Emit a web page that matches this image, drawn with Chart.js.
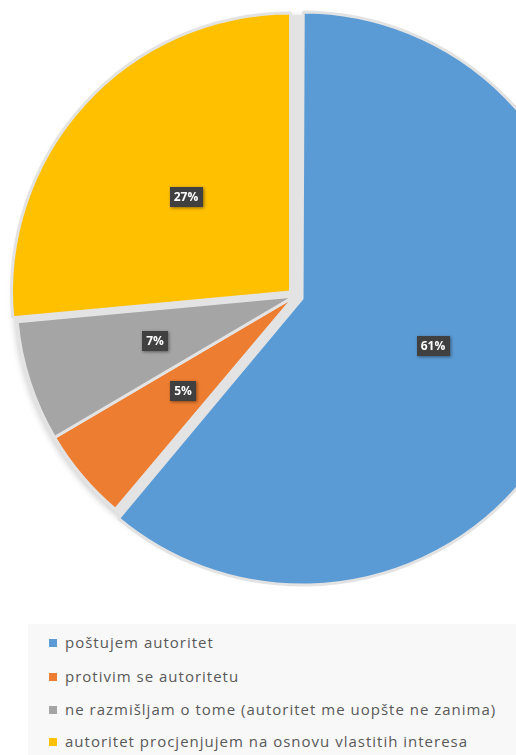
<!DOCTYPE html>
<html><head><meta charset="utf-8">
<script src="https://cdn.jsdelivr.net/npm/chart.js@4.4.1/dist/chart.umd.min.js"></script>
<style>
html,body{margin:0;padding:0;background:#fff;width:516px;height:755px;overflow:hidden;position:relative;}
#wrap{position:absolute;left:0;top:0;width:590px;height:592px;}
#legend{position:absolute;left:28px;top:624px;width:488px;height:131px;background:#f8f8f8;font-family:"Open Sans",sans-serif;font-size:15px;color:#595959;letter-spacing:1px;}
.item{position:absolute;left:21px;height:20px;line-height:20px;white-space:nowrap;}
.box{display:inline-block;width:8px;height:8px;margin-right:8px;vertical-align:middle;position:relative;top:-1px;}
</style></head><body>
<div id="wrap"><canvas id="c" width="590" height="592"></canvas></div>
<div id="legend"></div>
<script>
const categories = [
  'poštujem autoritet',
  'protivim se autoritetu',
  'ne razmišljam o tome (autoritet me uopšte ne zanima)',
  'autoritet procjenjujem na osnovu vlastitih interesa'
];
// percentages (labels show them rounded)
const values = [61.2, 5.4, 7.0, 26.5];

const sliceColors = ['#5B9BD5', '#ED7D31', '#A5A5A5', '#FFC000'];
// Chart.js v4 moves an arc by offset/4 px
const sliceOffsets = [30, 0, 0, 24];

const backdrop = {
  id: 'backdrop',
  beforeDatasetsDraw(chart) {
    const arc = chart.getDatasetMeta(0).data[0];
    if (!arc) return;
    const p = arc.getProps(['x', 'y', 'outerRadius'], true);
    const ctx = chart.ctx;
    ctx.save();
    ctx.fillStyle = '#e3e3e3';
    ctx.shadowColor = 'rgba(0,0,0,0.22)';
    ctx.shadowBlur = 7;
    ctx.shadowOffsetY = 2;
    ctx.beginPath();
    ctx.arc(p.x, p.y, p.outerRadius + 2, 0, Math.PI * 2);
    ctx.fill();
    ctx.restore();
  }
};

const valueLabels = {
  id: 'valueLabels',
  afterDatasetsDraw(chart) {
    const meta = chart.getDatasetMeta(0);
    const ds = chart.data.datasets[0].data;
    const ctx = chart.ctx;
    meta.data.forEach((arc, i) => {
      const p = arc.getProps(['x', 'y', 'startAngle', 'endAngle', 'outerRadius'], true);
      const mid = (p.startAngle + p.endAngle) / 2;
      const d = p.outerRadius * 0.527;
      const cx = p.x + Math.cos(mid) * d;
      const cy = p.y + Math.sin(mid) * d;
      const text = Math.round(ds[i]) + '%';
      ctx.save();
      ctx.font = 'bold 12px "Open Sans"';
      const w = Math.round(ctx.measureText(text).width + 8);
      const h = 20;
      ctx.shadowColor = 'rgba(0,0,0,0.45)';
      ctx.shadowBlur = 3;
      ctx.shadowOffsetX = 1;
      ctx.shadowOffsetY = 1;
      ctx.fillStyle = '#404040';
      ctx.fillRect(Math.round(cx - w / 2), Math.round(cy - h / 2), w, h);
      ctx.shadowColor = 'transparent';
      ctx.fillStyle = '#ffffff';
      ctx.textAlign = 'center';
      ctx.textBaseline = 'middle';
      ctx.fillText(text, Math.round(cx), Math.round(cy) + 1);
      ctx.restore();
    });
  }
};

const chart = new Chart(document.getElementById('c'), {
  type: 'pie',
  data: {
    labels: categories,
    datasets: [{
      data: values,
      backgroundColor: sliceColors,
      borderColor: '#e3e3e3',
      borderWidth: 3,
      offset: sliceOffsets
    }]
  },
  options: {
    responsive: false,
    animation: false,
    radius: 279,
    layout: { padding: 0 },
    plugins: {
      legend: { display: false },
      tooltip: { enabled: false }
    }
  },
  plugins: [backdrop, valueLabels]
});

// HTML legend built from the chart's own legend items
const legendEl = document.getElementById('legend');
const items = chart.options.plugins.legend.labels.generateLabels(chart);
const rowTops = [8, 42, 75, 107];
items.forEach((it, i) => {
  const div = document.createElement('div');
  div.className = 'item';
  div.style.top = rowTops[i] + 'px';
  const box = document.createElement('span');
  box.className = 'box';
  box.style.background = it.fillStyle;
  div.appendChild(box);
  div.appendChild(document.createTextNode(it.text));
  legendEl.appendChild(div);
});
</script>
</body></html>
